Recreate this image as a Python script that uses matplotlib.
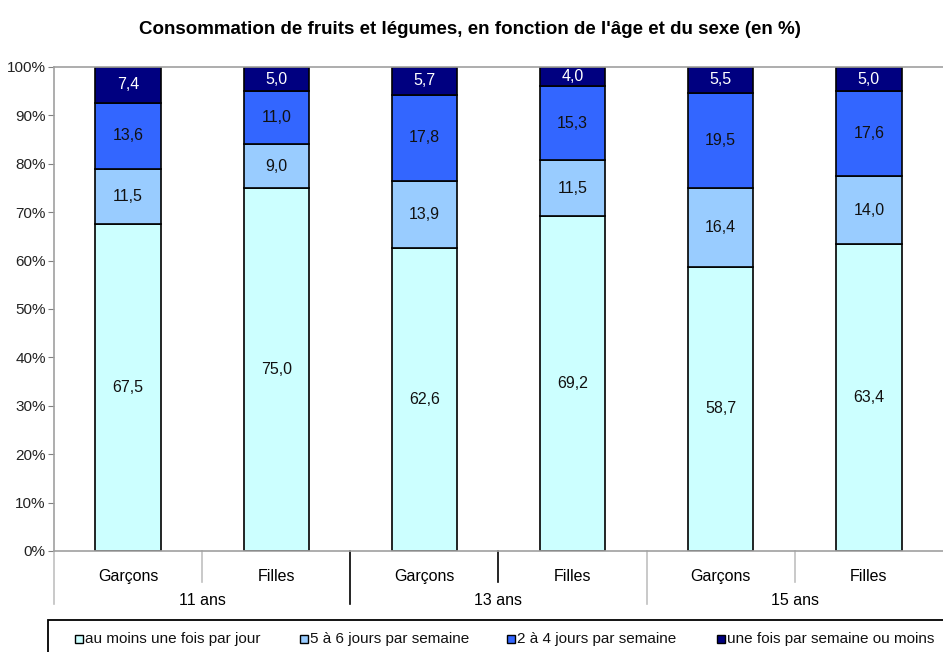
import matplotlib
matplotlib.use("Agg")
import matplotlib.pyplot as plt
from matplotlib.patches import Rectangle
import matplotlib.transforms as mtransforms

plt.rcParams['font.family'] = ['Liberation Sans', 'DejaVu Sans']

sexes = ["Garçons", "Filles", "Garçons", "Filles", "Garçons", "Filles"]
ages = ["11 ans", "13 ans", "15 ans"]
series_names = ["au moins une fois par jour", "5 à 6 jours par semaine",
                "2 à 4 jours par semaine", "une fois par semaine ou moins"]
daily = [67.5, 75.0, 62.6, 69.2, 58.7, 63.4]
five_six = [11.5, 9.0, 13.9, 11.5, 16.4, 14.0]
two_four = [13.6, 11.0, 17.8, 15.3, 19.5, 17.6]
weekly = [7.4, 5.0, 5.7, 4.0, 5.5, 5.0]
colors = ["#CCFFFF", "#99CCFF", "#3366FF", "#000080"]
text_colors = ["#111111", "#111111", "#111111", "white"]

W, H = 943, 652
fig = plt.figure(figsize=(W/100, H/100), dpi=100)
ax = fig.add_axes([54/W, 1-551/H, (W-54)/W, (551-67)/H])

x = list(range(len(sexes)))
bottom = [0.0]*len(x)
for vals, col, tc, name in zip([daily, five_six, two_four, weekly], colors, text_colors, series_names):
    ax.bar(x, vals, bottom=bottom, width=0.44, color=col, edgecolor="black",
           linewidth=1.2, label=name)
    for xi, b, v in zip(x, bottom, vals):
        ax.text(xi, b + v/2, f"{v:.1f}".replace(".", ","), ha="center", va="center",
                color=tc, fontsize=11.5)
    bottom = [b + v for b, v in zip(bottom, vals)]

ax.set_xlim(-0.5, 5.5)
ax.set_ylim(0, 100)
ax.set_yticks(range(0, 101, 10))
ax.set_yticklabels([f"{v}%" for v in range(0, 101, 10)], fontsize=11, color="#222222")
ax.tick_params(axis="y", length=4, color="#808080", pad=2)
ax.set_xticks(x)
ax.set_xticklabels(sexes, fontsize=11.5)
ax.tick_params(axis="x", length=0, pad=13)
for s in ax.spines.values():
    s.set_color("#A0A0A0")
    s.set_linewidth(1.2)
ax.spines["right"].set_visible(False)

trans = mtransforms.blended_transform_factory(ax.transData, ax.transAxes)
for i, a in enumerate(ages):
    ax.text(2*i + 0.5, -0.102, a, transform=trans, ha="center", va="center", fontsize=11.5)

# separators
sep = [(-0.5, -0.11, "#C0C0C0"), (0.5, -0.064, "#C0C0C0"), (1.5, -0.11, "black"),
       (2.5, -0.064, "black"), (3.5, -0.11, "#C0C0C0"), (4.5, -0.064, "#C0C0C0")]
for xs, yl, c in sep:
    ax.plot([xs, xs], [0, yl], transform=trans, color=c, lw=1.2, clip_on=False)

fig.text(470/W, 1-30/H, "Consommation de fruits et légumes, en fonction de l'âge et du sexe (en %)",
         ha="center", va="center", fontsize=13.5, fontweight="bold")

# legend (manual, box runs off the right edge as in the reference)
fig.patches.append(Rectangle((48/W, -0.05), 1.0, (H-620)/H + 0.05, transform=fig.transFigure,
                             facecolor="white", edgecolor="black", linewidth=1.3))
leg_x = [75, 300, 507, 717]
ly = 1 - 639/H
for lx, c, name in zip(leg_x, colors, series_names):
    fig.patches.append(Rectangle((lx/W, ly - 4/H), 8/W, 8/H, transform=fig.transFigure,
                                 facecolor=c, edgecolor="black", linewidth=1))
    fig.text((lx + 10)/W, ly, name, ha="left", va="center", fontsize=11, color="#111111")

fig.savefig("out.png", dpi=100)
